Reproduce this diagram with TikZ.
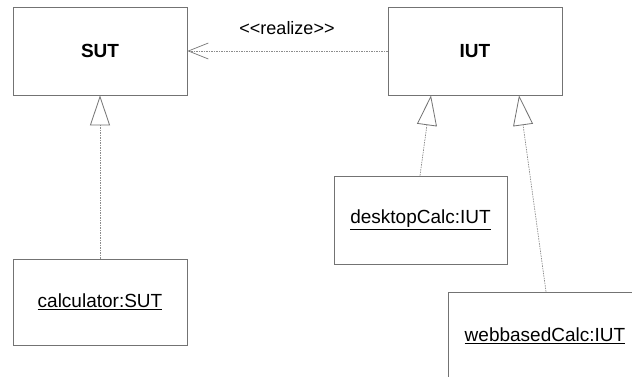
\documentclass[tikz,border=0pt]{standalone}
\usepackage{fontspec}
\setmainfont{Liberation Sans}
\usetikzlibrary{arrows.meta}
\definecolor{edgegray}{gray}{0.45}
\definecolor{linegray}{gray}{0.55}
\begin{document}
\begin{tikzpicture}[x=1pt,y=-1pt,
  classbox/.style={draw=edgegray, line width=0.8pt, inner sep=0pt,
    font=\fontsize{19}{22}\selectfont},
  realizeline/.style={draw=linegray, line width=0.7pt, dash pattern=on 1.5pt off 1pt,
    -{Straight Barb[length=20pt,width=16pt,line width=0.7pt,color=edgegray]}},
  genline/.style={draw=linegray, line width=0.7pt, dash pattern=on 1.5pt off 1pt,
    -{Triangle[open,length=30pt,width=20pt,line width=0.8pt,color=edgegray,fill=white]}},
  lbl/.style={font=\fontsize{18}{21}\selectfont, text=black}]
\useasboundingbox (0,0) rectangle (632,377);
\clip (0,0) rectangle (632,377);

% classes
\node[classbox, minimum width=174pt, minimum height=88pt] (sut) at (100,51) {\textbf{SUT}};
\node[classbox, minimum width=174pt, minimum height=88pt] (iut) at (475,51) {\textbf{IUT}};

% instances
\node[classbox, minimum width=174pt, minimum height=86pt] (calc) at (100,302) {\underline{calculator:SUT}};
\node[classbox, minimum width=173pt, minimum height=88pt] (desk) at (420.5,220) {\underline{desktopCalc:IUT}};
\node[classbox, minimum width=194pt, minimum height=88pt] (web) at (545,336) {\underline{webbasedCalc:IUT}};

% attachment points on the bottom edge of IUT
\coordinate (iutA) at (iut.south west -| 431,0);
\coordinate (iutB) at (iut.south west -| 519,0);
\coordinate (deskTop) at (desk.north west -| 420,0);
\coordinate (webTop) at (web.north west -| 546,0);

% realization between the classes
\draw[realizeline] (iut.west) -- (sut.east);
\node[lbl] (rl) at (287,28) {{<}{<}realize{>}{>}};

% instance-of links
\draw[genline] (calc.north) -- (sut.south);
\draw[genline] (deskTop) -- (iutA);
\draw[genline] (webTop) -- (iutB);
\end{tikzpicture}
\end{document}
